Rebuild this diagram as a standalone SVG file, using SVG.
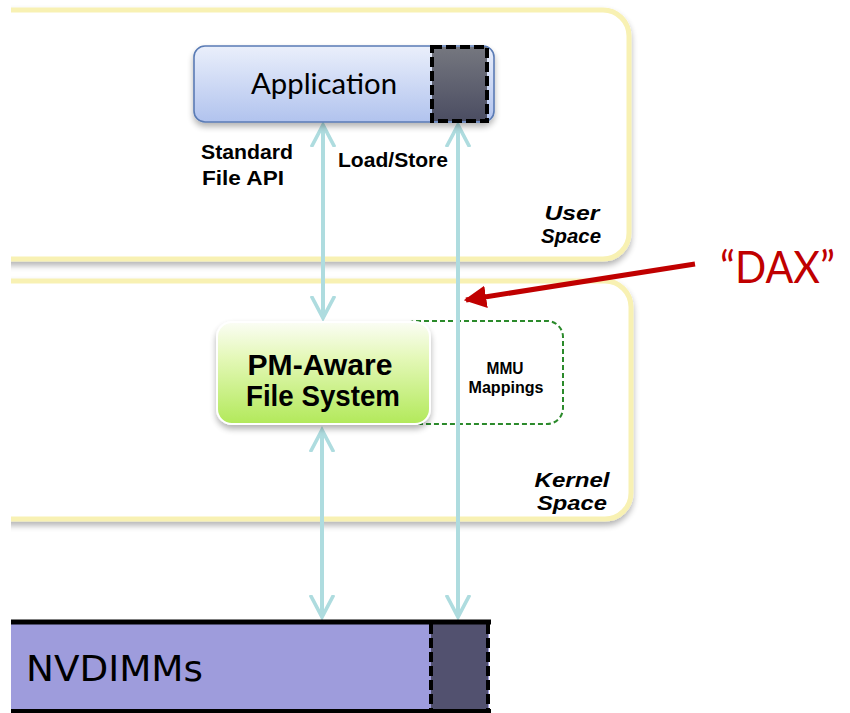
<svg xmlns="http://www.w3.org/2000/svg" width="850" height="713" viewBox="0 0 850 713">
  <defs>
    <linearGradient id="appGrad" x1="0" y1="0" x2="0" y2="1">
      <stop offset="0" stop-color="#eaeffb"/>
      <stop offset="1" stop-color="#b1c3ee"/>
    </linearGradient>
    <linearGradient id="darkGrad" x1="0" y1="0" x2="0" y2="1">
      <stop offset="0" stop-color="#75777f"/>
      <stop offset="1" stop-color="#4b4d62"/>
    </linearGradient>
    <linearGradient id="fsGrad" x1="0" y1="0" x2="0" y2="1">
      <stop offset="0" stop-color="#fbfdf5"/>
      <stop offset="0.35" stop-color="#e4f8b8"/>
      <stop offset="1" stop-color="#b2e95a"/>
    </linearGradient>
    <filter id="shadow" x="-10%" y="-10%" width="130%" height="140%">
      <feGaussianBlur in="SourceAlpha" stdDeviation="3"/>
      <feOffset dx="0" dy="4"/>
      <feComponentTransfer><feFuncA type="linear" slope="0.3"/></feComponentTransfer>
      <feMerge><feMergeNode/><feMergeNode in="SourceGraphic"/></feMerge>
    </filter>
    <clipPath id="leftCut"><rect x="11" y="0" width="839" height="713"/></clipPath>
    <marker id="cyanHead" viewBox="0 0 10 10" refX="8.5" refY="5" markerWidth="6.5" markerHeight="6.5" orient="auto-start-reverse" markerUnits="strokeWidth">
      <path d="M0,0.5 L8.5,5 L0,9.5" fill="none" stroke="#aedcdf" stroke-width="1.4"/>
    </marker>
    <marker id="redHead" viewBox="0 0 10 10" refX="9" refY="5" markerWidth="4.5" markerHeight="4.5" orient="auto">
      <path d="M0,0 L10,5 L0,10 Z" fill="#c00000"/>
    </marker>
  </defs>
  <style>
    .space { fill: #ffffff; stroke: #f8f1b3; stroke-width: 5; }
    .bold { font-family: "Liberation Sans", Arial, sans-serif; font-weight: bold; fill: #000; }
    .ital { font-family: "Liberation Sans", Arial, sans-serif; font-weight: bold; font-style: italic; fill: #000; }
    .humanist { font-family: Lato, "Open Sans", sans-serif; fill: #000; }
    .link { fill: none; stroke: #aedcdf; stroke-width: 4; }
  </style>

  <rect width="850" height="713" fill="#ffffff"/>

  <!-- user and kernel space regions -->
  <g id="user-space" clip-path="url(#leftCut)">
    <rect class="space" x="-40" y="10" width="669" height="249" rx="26" filter="url(#shadow)"/>
    <text class="ital" font-size="20" x="572" y="220" text-anchor="middle" textLength="55" lengthAdjust="spacingAndGlyphs">User</text>
    <text class="ital" font-size="20" x="571" y="243" text-anchor="middle" textLength="60" lengthAdjust="spacingAndGlyphs">Space</text>
  </g>
  <g id="kernel-space" clip-path="url(#leftCut)">
    <rect class="space" x="-40" y="281" width="671" height="238" rx="26" filter="url(#shadow)"/>
    <text class="ital" font-size="21" x="572" y="487" text-anchor="middle" textLength="75" lengthAdjust="spacingAndGlyphs">Kernel</text>
    <text class="ital" font-size="21" x="572" y="510" text-anchor="middle" textLength="70" lengthAdjust="spacingAndGlyphs">Space</text>
  </g>

  <!-- MMU mappings -->
  <g id="mmu">
    <rect x="400" y="321" width="163" height="103" rx="16" fill="none" stroke="#2b8a2b" stroke-width="2" stroke-dasharray="5,3"/>
    <text class="bold" font-size="16" x="505" y="374" text-anchor="middle" textLength="37" lengthAdjust="spacingAndGlyphs">MMU</text>
    <text class="bold" font-size="16" x="506" y="393" text-anchor="middle" textLength="75" lengthAdjust="spacingAndGlyphs">Mappings</text>
  </g>

  <!-- connectors -->
  <g id="connectors">
    <line class="link" x1="323" y1="125" x2="323" y2="318" marker-start="url(#cyanHead)" marker-end="url(#cyanHead)"/>
    <line class="link" x1="322" y1="430" x2="322" y2="617" marker-start="url(#cyanHead)" marker-end="url(#cyanHead)"/>
    <line class="link" x1="458" y1="125" x2="458" y2="617" marker-start="url(#cyanHead)" marker-end="url(#cyanHead)"/>
    <line x1="695" y1="264" x2="466" y2="300" stroke="#c00000" stroke-width="5" marker-end="url(#redHead)"/>
  </g>

  <!-- application -->
  <g id="application">
    <rect x="194" y="46" width="300" height="76" rx="11" fill="url(#appGrad)" stroke="#5a7bb5" stroke-width="1.6" filter="url(#shadow)"/>
    <rect x="432" y="47" width="55" height="74" fill="url(#darkGrad)" stroke="#000" stroke-width="4" stroke-dasharray="10,4"/>
    <text class="humanist" font-size="28" x="324" y="94" text-anchor="middle" textLength="146" lengthAdjust="spacingAndGlyphs">Application</text>
  </g>

  <g id="labels">
    <text class="bold" font-size="20" x="247" y="159" text-anchor="middle" textLength="92" lengthAdjust="spacingAndGlyphs">Standard</text>
    <text class="bold" font-size="20" x="243" y="185" text-anchor="middle" textLength="82" lengthAdjust="spacingAndGlyphs">File API</text>
    <text class="bold" font-size="20" x="393" y="167" text-anchor="middle" textLength="110" lengthAdjust="spacingAndGlyphs">Load/Store</text>
    <text font-family="Lato, 'Open Sans', sans-serif" font-size="45" fill="#c00000" x="720" y="283" textLength="115" lengthAdjust="spacingAndGlyphs">“DAX”</text>
  </g>

  <!-- file system -->
  <g id="pm-fs">
    <rect x="217" y="322" width="213" height="102" rx="15" fill="url(#fsGrad)" stroke="#ffffff" stroke-width="2" filter="url(#shadow)"/>
    <text class="bold" font-size="29" x="320" y="375" text-anchor="middle" textLength="145" lengthAdjust="spacingAndGlyphs">PM-Aware</text>
    <text class="bold" font-size="29" x="323" y="406" text-anchor="middle" textLength="154" lengthAdjust="spacingAndGlyphs">File System</text>
  </g>

  <!-- NVDIMMs -->
  <g id="nvdimms">
    <rect x="11" y="622" width="478" height="89" fill="#9e9cdc"/>
    <rect x="431" y="622" width="57" height="89" fill="#52516f"/>
    <line x1="11" y1="622" x2="491" y2="622" stroke="#000" stroke-width="5"/>
    <line x1="11" y1="711" x2="491" y2="711" stroke="#000" stroke-width="4"/>
    <line x1="431" y1="624" x2="431" y2="710" stroke="#000" stroke-width="4" stroke-dasharray="10,4"/>
    <line x1="488" y1="624" x2="488" y2="710" stroke="#000" stroke-width="4" stroke-dasharray="10,4"/>
    <text font-family="'DejaVu Sans', Verdana, sans-serif" fill="#000" font-size="35" x="26" y="681" textLength="177" lengthAdjust="spacingAndGlyphs">NVDIMMs</text>
  </g>
</svg>
